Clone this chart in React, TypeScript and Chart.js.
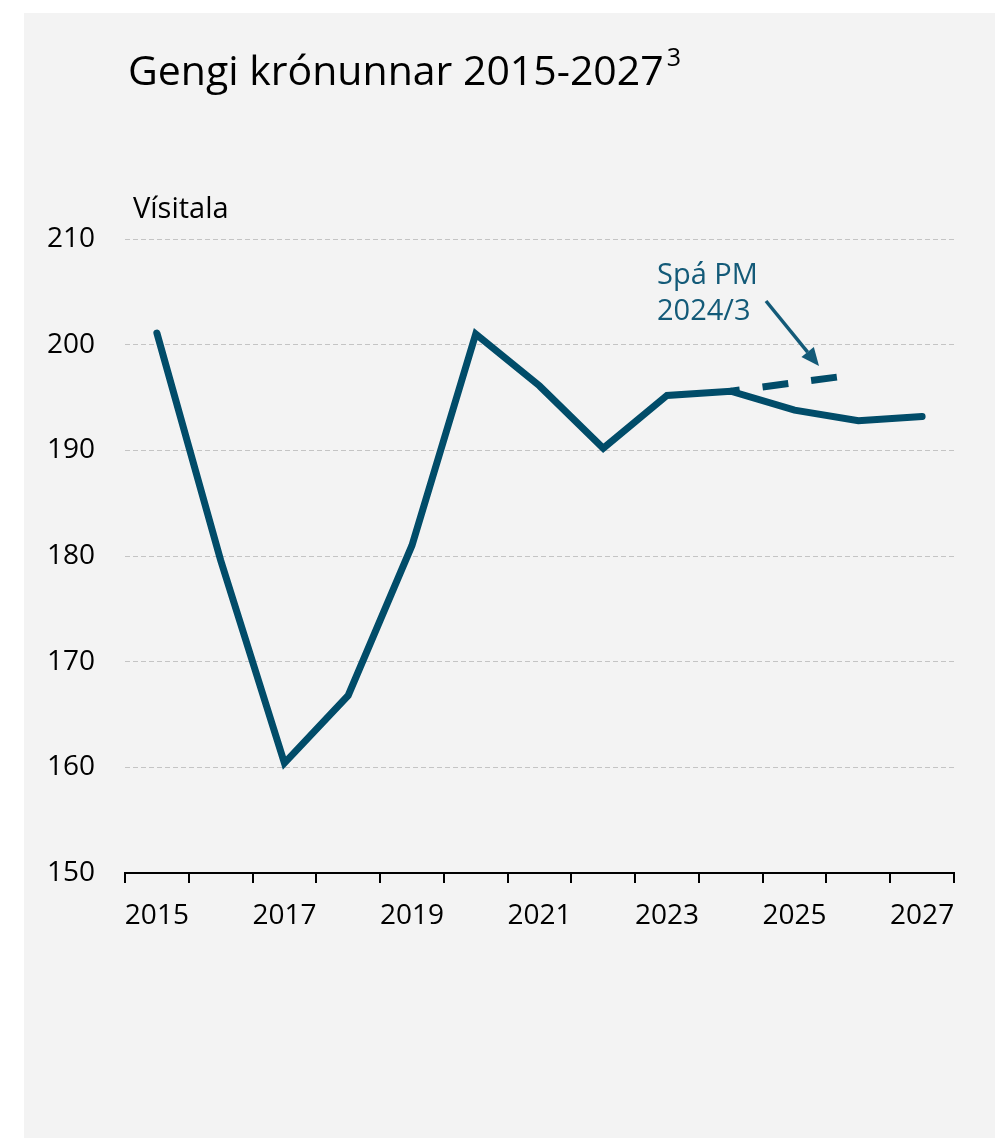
import React, { useEffect, useRef } from "react";
import { Chart, registerables } from "chart.js";

Chart.register(...registerables);

const years = ["2015", "2016", "2017", "2018", "2019", "2020", "2021", "2022", "2023", "2024", "2025", "2026", "2027"];
const gengi = [201.1, 179.6, 160.4, 166.8, 181.0, 201.0, 196.1, 190.2, 195.2, 195.6, 193.8, 192.8, 193.2];
const spaPM = [null, null, null, null, null, null, null, null, null, 195.6, 196.4, 197.2, null];
const yMin = 150;
const yMax = 210;
const yStep = 10;

const titleText = "Gengi krónunnar 2015-2027";
const titleSup = "3";
const yAxisTitle = "Vísitala";
const noteLines = ["Spá PM", "2024/3"];

const LINE = "#014c69";
const NOTE = "#135a78";
const FONT = "'Open Sans', 'Noto Sans', sans-serif";

export default function App() {
  const ref = useRef<HTMLCanvasElement | null>(null);

  useEffect(() => {
    if (!ref.current) return;

    const textPlugin = {
      id: "texts",
      afterDraw(chart: any) {
        const ctx = chart.ctx as CanvasRenderingContext2D;
        ctx.save();
        ctx.textBaseline = "alphabetic";
        ctx.textAlign = "left";
        // title
        ctx.fillStyle = "#000";
        ctx.font = `41px ${FONT}`;
        ctx.fillText(titleText, 104, 72);
        const w = ctx.measureText(titleText).width;
        ctx.font = `25px ${FONT}`;
        ctx.fillText(titleSup, 104 + w + 3, 53);
        // y axis title
        ctx.font = `29px ${FONT}`;
        ctx.fillText(yAxisTitle, 109, 205);
        // note
        ctx.fillStyle = NOTE;
        ctx.font = `29px ${FONT}`;
        ctx.fillText(noteLines[0], 633, 271);
        ctx.fillText(noteLines[1], 633, 307);
        // arrow
        const x1 = 742, y1 = 288, x2 = 795, y2 = 353;
        const ang = Math.atan2(y2 - y1, x2 - x1);
        const hl = 18, hw = 8;
        const bx = x2 - hl * Math.cos(ang), by = y2 - hl * Math.sin(ang);
        ctx.strokeStyle = NOTE;
        ctx.lineWidth = 3.5;
        ctx.beginPath();
        ctx.moveTo(x1, y1);
        ctx.lineTo(bx, by);
        ctx.stroke();
        ctx.beginPath();
        ctx.moveTo(x2, y2);
        ctx.lineTo(bx + hw * Math.sin(ang), by - hw * Math.cos(ang));
        ctx.lineTo(bx - hw * Math.sin(ang), by + hw * Math.cos(ang));
        ctx.closePath();
        ctx.fillStyle = NOTE;
        ctx.fill();
        ctx.restore();
      },
    };

    const chart = new Chart(ref.current, {
      type: "line",
      data: {
        labels: years,
        datasets: [
          {
            label: "Gengi",
            data: gengi,
            borderColor: LINE,
            borderWidth: 7,
            pointRadius: 0,
            tension: 0,
            borderJoinStyle: "miter",
            borderCapStyle: "round",
            fill: false,
          },
          {
            label: "Spá PM 2024/3",
            data: spaPM as any,
            borderColor: LINE,
            borderWidth: 7,
            pointRadius: 0,
            tension: 0,
            borderDash: [26, 23],
            borderDashOffset: 17,
            borderCapStyle: "butt",
            fill: false,
            spanGaps: false,
          },
        ],
      },
      options: {
        responsive: false,
        animation: false,
        events: [],
        layout: { padding: { top: 226, right: 41, left: 0, bottom: 0 } },
        plugins: {
          legend: { display: false },
          tooltip: { enabled: false },
          title: { display: false },
        },
        scales: {
          x: {
            type: "category",
            offset: true,
            grid: {
              offset: true,
              drawOnChartArea: false,
              drawTicks: true,
              tickLength: 10,
              color: "#000",
              lineWidth: 2,
            },
            border: { display: true, color: "#000", width: 2 },
            ticks: {
              autoSkip: false,
              maxRotation: 0,
              minRotation: 0,
              color: "#000",
              padding: 16,
              font: { family: FONT, size: 28 },
              callback: (_v: any, i: number) => (i % 2 === 0 ? years[i] : ""),
            },
            afterFit: (s: any) => {
              s.height = 265;
            },
          },
          y: {
            min: yMin,
            max: yMax,
            ticks: {
              stepSize: yStep,
              color: "#000",
              padding: 30,
              font: { family: FONT, size: 28 },
            },
            grid: {
              drawTicks: false,
              lineWidth: 1,
              color: (c: any) => (c.tick && c.tick.value === yMin ? "rgba(0,0,0,0)" : "#c4c4c4"),
            },
            border: { display: false, dash: [5, 3] },
            afterFit: (s: any) => {
              s.width = 101;
            },
          },
        },
      },
      plugins: [textPlugin],
    });

    return () => chart.destroy();
  }, []);

  return (
    <div style={{ position: "absolute", left: 0, top: 0, width: 995, height: 1138, background: "#fff", overflow: "hidden" }}>
      <div style={{ position: "absolute", left: 24, top: 13, width: 971, height: 1125, background: "#f3f3f3" }}>
        <canvas ref={ref} width={971} height={1125} style={{ display: "block", width: 971, height: 1125 }} />
      </div>
    </div>
  );
}
